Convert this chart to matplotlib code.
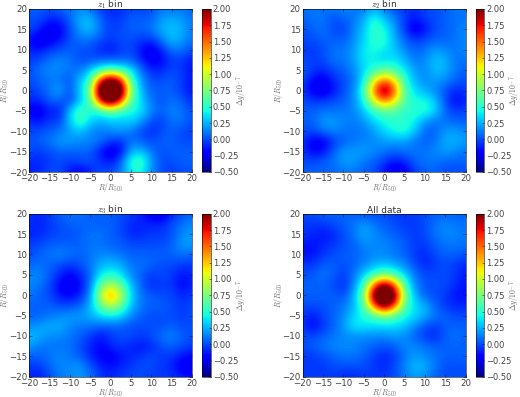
import numpy as np
import matplotlib
matplotlib.use('Agg')
import matplotlib.pyplot as plt

# rows run from y = 20 down to y = -20, columns from x = -20 to x = 20, step 2.5
grid = [-20, -17.5, -15, -12.5, -10, -7.5, -5, -2.5, 0, 2.5, 5, 7.5, 10, 12.5, 15, 17.5, 20]

z1_bin = [
    [0.05, 0.05, 0.00, 0.05, 0.10, 0.15, 0.10, -0.05, -0.10, -0.10, 0.00, -0.05, 0.00, 0.10, 0.10, 0.10, 0.05],
    [0.00, 0.00, -0.10, -0.10, 0.05, 0.25, 0.30, 0.05, -0.05, -0.05, 0.05, 0.05, 0.05, 0.20, 0.25, 0.20, 0.10],
    [0.00, -0.10, -0.28, -0.25, 0.00, 0.20, 0.30, 0.10, -0.05, 0.00, 0.05, 0.05, 0.10, 0.25, 0.30, 0.25, 0.10],
    [-0.15, -0.32, -0.25, -0.15, 0.00, 0.10, 0.10, 0.00, -0.05, 0.00, 0.00, -0.05, -0.05, 0.10, 0.30, 0.20, 0.10],
    [-0.10, -0.15, -0.05, 0.00, 0.05, 0.00, 0.00, -0.10, -0.15, -0.05, 0.00, -0.15, -0.30, -0.10, 0.10, 0.10, 0.00],
    [-0.05, 0.00, 0.10, 0.15, 0.10, 0.00, 0.00, 0.05, 0.05, 0.05, 0.05, -0.10, -0.25, -0.20, -0.05, -0.05, -0.15],
    [0.00, 0.10, 0.15, 0.15, 0.10, 0.10, 0.30, 0.50, 0.65, 0.55, 0.40, 0.10, -0.10, -0.10, 0.00, -0.05, -0.15],
    [0.00, 0.05, 0.10, 0.10, 0.00, 0.30, 0.50, 1.70, 2.30, 1.80, 0.60, 0.20, 0.00, 0.00, 0.05, -0.05, -0.15],
    [-0.05, 0.00, 0.10, 0.25, 0.00, 0.30, 0.70, 2.40, 2.80, 2.40, 0.80, 0.25, 0.05, 0.05, 0.05, -0.05, -0.15],
    [-0.10, -0.10, 0.05, 0.05, -0.05, 0.30, 0.55, 1.80, 2.40, 1.70, 0.60, 0.35, 0.10, 0.00, 0.10, 0.05, -0.10],
    [-0.20, -0.30, -0.10, -0.15, 0.30, 0.60, 0.45, 0.45, 0.70, 0.50, 0.45, 0.40, 0.15, 0.05, 0.15, 0.10, 0.00],
    [-0.10, -0.15, -0.05, -0.05, 0.30, 0.60, 0.35, 0.25, 0.30, 0.30, 0.35, 0.20, 0.00, -0.05, 0.10, 0.10, 0.00],
    [0.00, 0.00, 0.05, 0.10, 0.20, 0.30, 0.15, 0.10, 0.15, 0.20, 0.10, 0.00, -0.10, 0.00, 0.05, 0.00, -0.05],
    [0.00, 0.05, 0.10, 0.20, 0.20, 0.15, 0.15, 0.10, -0.05, -0.10, 0.10, 0.05, 0.00, 0.05, 0.05, 0.00, 0.00],
    [0.00, -0.05, 0.00, 0.05, 0.05, 0.05, 0.05, -0.15, -0.30, -0.20, 0.25, 0.30, 0.10, 0.00, 0.05, 0.05, 0.05],
    [-0.10, -0.10, -0.05, 0.00, -0.05, 0.00, 0.00, -0.05, -0.15, 0.05, 0.50, 0.60, 0.20, 0.00, 0.00, 0.05, 0.05],
    [-0.10, -0.10, 0.00, 0.00, -0.15, -0.25, -0.10, 0.00, 0.00, 0.10, 0.40, 0.45, 0.15, 0.00, -0.05, 0.00, 0.00],
]

z2_bin = [
    [0.10, 0.10, 0.10, 0.10, 0.15, 0.10, 0.10, 0.25, 0.10, 0.00, -0.05, -0.10, 0.00, 0.00, 0.05, 0.10, 0.10],
    [0.05, 0.10, 0.10, 0.00, 0.05, 0.10, 0.25, 0.50, 0.30, 0.15, -0.05, -0.15, -0.05, 0.00, 0.05, 0.10, 0.10],
    [0.00, 0.05, 0.10, 0.00, -0.05, 0.15, 0.30, 0.55, 0.45, 0.20, -0.05, -0.30, -0.15, 0.00, 0.05, 0.10, 0.15],
    [0.00, 0.00, 0.05, 0.05, 0.05, 0.15, 0.35, 0.50, 0.50, 0.25, 0.05, -0.05, 0.00, 0.05, 0.05, 0.10, 0.15],
    [-0.05, -0.05, 0.00, 0.10, 0.10, 0.20, 0.40, 0.45, 0.40, 0.30, 0.15, 0.05, 0.10, 0.20, 0.15, 0.10, 0.15],
    [0.00, -0.05, 0.00, 0.10, 0.10, 0.20, 0.40, 0.40, 0.30, 0.40, 0.25, 0.10, 0.15, 0.30, 0.25, 0.10, 0.10],
    [0.05, -0.05, -0.10, 0.00, 0.05, 0.15, 0.35, 0.50, 0.70, 0.55, 0.40, 0.20, 0.15, 0.30, 0.25, 0.10, 0.05],
    [0.00, -0.20, -0.25, -0.10, 0.00, 0.10, 0.40, 1.10, 1.50, 1.15, 0.50, 0.25, 0.15, 0.20, 0.15, 0.05, 0.00],
    [-0.05, -0.25, -0.30, -0.15, 0.00, 0.15, 0.55, 1.50, 2.20, 1.55, 0.60, 0.35, 0.25, 0.15, 0.00, -0.10, -0.05],
    [0.00, -0.05, -0.05, 0.00, 0.05, 0.15, 0.45, 1.10, 1.50, 1.15, 0.60, 0.45, 0.45, 0.30, 0.00, -0.20, -0.10],
    [0.05, 0.05, 0.10, 0.10, 0.10, 0.15, 0.30, 0.50, 0.65, 0.60, 0.50, 0.50, 0.50, 0.35, 0.05, -0.05, 0.00],
    [0.05, 0.05, 0.20, 0.20, 0.15, 0.10, 0.20, 0.35, 0.45, 0.50, 0.50, 0.40, 0.20, 0.10, 0.10, 0.05, 0.05],
    [0.00, 0.00, 0.10, 0.15, 0.10, 0.10, 0.10, 0.20, 0.35, 0.45, 0.50, 0.30, 0.05, 0.05, 0.20, 0.20, 0.15],
    [-0.05, -0.25, -0.25, -0.05, 0.05, 0.10, 0.15, 0.15, 0.20, 0.20, 0.20, 0.10, 0.05, 0.10, 0.25, 0.25, 0.20],
    [-0.05, -0.20, -0.15, 0.05, 0.20, 0.20, 0.20, 0.15, 0.10, 0.05, 0.10, 0.10, 0.10, 0.15, 0.20, 0.15, 0.10],
    [0.00, 0.00, 0.05, 0.10, 0.20, 0.20, 0.10, 0.05, -0.05, -0.15, -0.10, 0.05, 0.10, 0.10, 0.05, 0.05, 0.05],
    [0.05, 0.05, 0.05, 0.05, 0.10, 0.10, 0.05, 0.00, -0.15, -0.35, -0.25, -0.05, 0.05, 0.05, 0.00, 0.00, 0.00],
]

z3_bin = [
    [-0.05, -0.10, -0.05, 0.05, 0.10, 0.10, 0.05, 0.05, 0.05, 0.00, -0.05, -0.10, -0.25, -0.30, -0.10, 0.00, 0.05],
    [-0.10, -0.10, -0.05, 0.00, 0.05, 0.05, 0.05, 0.05, 0.05, 0.00, -0.10, -0.10, -0.10, -0.10, 0.00, 0.10, 0.15],
    [-0.10, -0.10, -0.05, 0.00, 0.00, 0.05, 0.10, 0.10, 0.05, 0.00, -0.10, -0.10, -0.05, -0.05, 0.00, 0.15, 0.20],
    [-0.05, 0.00, 0.05, 0.05, 0.05, 0.05, 0.10, 0.10, 0.05, 0.05, 0.00, 0.00, 0.00, 0.00, 0.05, 0.20, 0.20],
    [0.00, 0.05, 0.10, 0.15, 0.10, 0.05, 0.10, 0.15, 0.15, 0.10, 0.05, 0.05, 0.05, 0.05, 0.05, 0.10, 0.05],
    [0.05, 0.10, 0.05, 0.00, -0.05, 0.00, 0.10, 0.25, 0.30, 0.25, 0.10, 0.10, 0.05, 0.00, 0.00, -0.05, -0.05],
    [0.15, 0.15, 0.05, -0.10, -0.22, -0.10, 0.05, 0.40, 0.50, 0.40, 0.15, 0.05, -0.05, 0.00, -0.05, -0.15, -0.10],
    [0.15, 0.10, 0.00, -0.20, -0.30, -0.20, 0.10, 0.65, 0.95, 0.70, 0.30, 0.05, -0.10, -0.05, -0.05, -0.20, -0.10],
    [0.10, 0.05, 0.00, -0.15, -0.20, -0.10, 0.15, 0.90, 1.50, 0.95, 0.35, 0.10, 0.05, 0.00, 0.00, -0.10, -0.05],
    [0.05, 0.05, 0.05, 0.00, 0.00, 0.05, 0.25, 0.65, 0.95, 0.70, 0.30, 0.10, 0.05, 0.05, 0.00, -0.05, 0.00],
    [0.05, 0.05, 0.10, 0.15, 0.20, 0.20, 0.25, 0.35, 0.40, 0.35, 0.15, 0.05, 0.00, 0.00, 0.00, -0.05, 0.00],
    [0.15, 0.20, 0.25, 0.25, 0.15, 0.10, 0.10, 0.05, 0.05, 0.05, 0.00, 0.00, 0.00, 0.00, 0.05, 0.00, 0.00],
    [0.30, 0.25, 0.15, 0.15, 0.10, 0.05, -0.05, -0.15, -0.05, 0.00, 0.00, -0.05, 0.00, 0.10, 0.15, 0.05, 0.00],
    [0.20, 0.10, 0.10, 0.10, 0.10, 0.00, -0.10, -0.20, -0.10, -0.05, -0.10, -0.15, -0.10, 0.00, 0.05, 0.00, -0.05],
    [0.05, 0.05, 0.10, 0.15, 0.10, 0.05, -0.10, -0.20, -0.25, -0.15, -0.10, -0.05, 0.00, -0.05, -0.05, -0.15, -0.20],
    [-0.05, -0.05, 0.05, 0.15, 0.15, 0.20, 0.05, -0.10, -0.15, -0.10, -0.05, 0.00, 0.00, -0.05, -0.10, -0.25, -0.30],
    [-0.10, -0.15, 0.00, 0.10, 0.15, 0.20, 0.10, -0.05, -0.10, -0.05, 0.00, 0.00, -0.05, -0.05, -0.05, -0.10, -0.15],
]

all_data = [
    [0.00, 0.00, 0.05, 0.05, 0.05, 0.05, 0.00, 0.00, 0.00, -0.05, -0.05, -0.05, 0.00, 0.05, 0.05, 0.05, 0.05],
    [-0.05, -0.05, -0.05, 0.00, 0.05, 0.10, 0.20, 0.10, 0.05, 0.00, -0.05, -0.05, 0.00, 0.10, 0.15, 0.10, 0.10],
    [-0.05, -0.10, -0.15, -0.10, 0.00, 0.10, 0.25, 0.15, 0.10, 0.05, 0.00, -0.05, 0.00, 0.10, 0.15, 0.15, 0.10],
    [-0.15, -0.15, -0.10, -0.05, 0.00, 0.05, 0.15, 0.15, 0.15, 0.10, 0.05, -0.05, -0.05, 0.05, 0.10, 0.10, 0.10],
    [-0.15, -0.15, -0.05, 0.00, 0.05, 0.05, 0.10, 0.15, 0.15, 0.10, 0.05, -0.05, -0.10, 0.00, 0.05, 0.05, 0.00],
    [-0.05, -0.05, 0.05, 0.05, 0.00, 0.05, 0.15, 0.25, 0.30, 0.25, 0.15, 0.00, -0.10, -0.05, 0.00, -0.05, -0.10],
    [0.00, 0.05, 0.10, 0.05, -0.05, 0.10, 0.35, 0.55, 0.75, 0.60, 0.35, 0.10, 0.00, 0.00, 0.00, -0.05, -0.15],
    [0.05, 0.05, 0.05, 0.00, -0.10, 0.15, 0.55, 1.55, 2.20, 1.55, 0.60, 0.15, 0.00, 0.00, 0.00, -0.10, -0.15],
    [0.05, 0.05, 0.05, 0.05, 0.00, 0.25, 0.75, 2.20, 2.70, 2.20, 0.75, 0.25, 0.05, 0.00, -0.05, -0.15, -0.15],
    [0.00, 0.00, 0.00, 0.05, 0.10, 0.25, 0.60, 1.55, 2.20, 1.55, 0.60, 0.35, 0.25, 0.05, -0.05, -0.10, -0.10],
    [-0.05, -0.15, 0.00, 0.05, 0.15, 0.35, 0.45, 0.55, 0.75, 0.60, 0.45, 0.35, 0.25, 0.10, 0.05, 0.00, 0.00],
    [-0.05, -0.20, -0.05, 0.05, 0.20, 0.40, 0.40, 0.35, 0.35, 0.35, 0.30, 0.15, 0.00, -0.05, 0.05, 0.05, 0.05],
    [0.00, 0.00, 0.05, 0.10, 0.15, 0.15, 0.15, 0.15, 0.15, 0.20, 0.15, 0.05, -0.05, -0.10, 0.05, 0.10, 0.05],
    [0.00, 0.05, 0.10, 0.15, 0.15, 0.15, 0.10, 0.05, 0.00, 0.05, 0.15, 0.15, 0.10, 0.05, 0.05, 0.05, 0.05],
    [-0.05, -0.05, 0.00, 0.05, 0.10, 0.10, 0.05, -0.05, -0.10, -0.05, 0.10, 0.20, 0.15, 0.10, 0.05, 0.05, 0.05],
    [-0.05, -0.05, -0.05, 0.00, 0.00, 0.00, 0.00, -0.05, -0.10, 0.00, 0.15, 0.30, 0.25, 0.10, 0.00, 0.00, 0.00],
    [-0.05, -0.05, -0.05, -0.05, -0.10, -0.10, -0.05, -0.05, -0.05, 0.00, 0.10, 0.20, 0.15, 0.05, 0.00, 0.00, 0.00],
]

titles = ['$z_1$ bin', '$z_2$ bin', '$z_3$ bin', 'All data']
panels = [z1_bin, z2_bin, z3_bin, all_data]
ticks = [-20, -15, -10, -5, 0, 5, 10, 15, 20]
cbar_ticks = [-0.5, -0.25, 0.0, 0.25, 0.5, 0.75, 1.0, 1.25, 1.5, 1.75, 2.0]

W, H = 520, 397
# left, top edges of each panel in pixels
axes_px = [(29, 9), (302.7, 9), (29, 213.7), (302.7, 213.7)]
cbar_px = [202, 475.5, 202, 475.5]
SIZE = 163
GREY = '#444444'

plt.rcParams['font.family'] = ['DejaVu Sans']
plt.rcParams['mathtext.fontset'] = 'cm'

fig = plt.figure(figsize=(W / 100, H / 100), dpi=100)

half = (grid[1] - grid[0]) / 2
extent = [grid[0] - half, grid[-1] + half, grid[0] - half, grid[-1] + half]

for i in range(4):
    x0, y0 = axes_px[i]
    bottom = 1 - (y0 + SIZE) / H
    ax = fig.add_axes([x0 / W, bottom, SIZE / W, SIZE / H])
    im = ax.imshow(np.array(panels[i]), cmap='jet', vmin=-0.5, vmax=2.0,
                   extent=extent, interpolation='bicubic', aspect='auto')
    ax.set_xlim(-20, 20)
    ax.set_ylim(-20, 20)
    ax.set_xticks(ticks)
    ax.set_yticks(ticks)
    ax.tick_params(direction='in', length=2, width=0.4, labelsize=6.2, pad=1.5,
                   top=True, right=True, colors='#222222', labelcolor=GREY)
    for s in ax.spines.values():
        s.set_linewidth(0.4)
    ax.set_xlabel('$R/R_{500}$', fontsize=5.5, color='#666666', va='center')
    ax.xaxis.set_label_coords(0.5, -0.098)
    ax.set_ylabel('$R/R_{500}$', fontsize=5.5, color='#666666', va='center')
    ax.yaxis.set_label_coords(-0.148, 0.5)
    ax.set_title(titles[i], fontsize=6.5, color='#333333', pad=0.8)

    cax = fig.add_axes([cbar_px[i] / W, bottom, 8.7 / W, SIZE / H])
    cb = fig.colorbar(im, cax=cax, ticks=cbar_ticks)
    cb.ax.set_yticklabels(['%.2f' % t if t >= 0 else '\u2212%.2f' % abs(t) for t in cbar_ticks])
    cb.ax.tick_params(direction='in', length=1.5, width=0.4, labelsize=6, pad=1.5,
                      colors='#222222', labelcolor=GREY)
    cb.outline.set_linewidth(0.4)
    cb.set_label(r'$\Delta y/10^{-7}$', fontsize=5.5, color='#666666', va='center')
    cb.ax.yaxis.set_label_coords(4.5, 0.5)

fig.savefig('out.png', dpi=100)
